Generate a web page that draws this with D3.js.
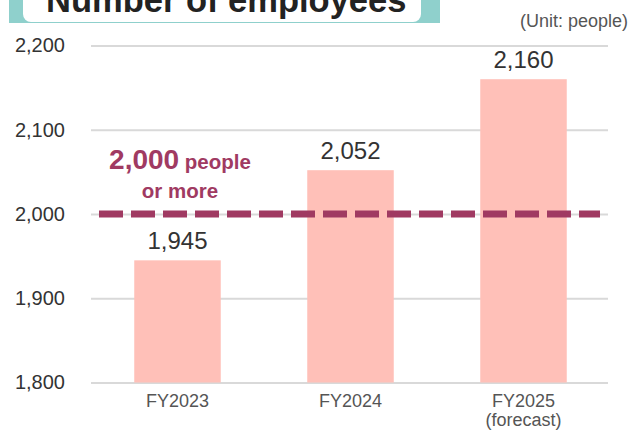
<!DOCTYPE html>
<html>
<head>
<meta charset="utf-8">
<script src="https://cdn.jsdelivr.net/npm/d3@7"></script>
<style>
  body { margin: 0; background: #fff; }
  svg { display: block; font-family: "Liberation Sans", Arial, sans-serif; }
</style>
</head>
<body>
<svg width="631" height="432"></svg>
<script>
// data
const categories = ["FY2023", "FY2024", "FY2025"];
const subLabels = ["", "", "(forecast)"];
const employees = [1945, 2052, 2160];
const yTicks = [1800, 1900, 2000, 2100, 2200];
const targetValue = 2000;

const svg = d3.select("svg");

// title block with teal brackets (top is cut off like the original)
svg.append("rect")
  .attr("x", 9).attr("y", -10)
  .attr("width", 431).attr("height", 33)
  .attr("fill", "#8fd0cc");
svg.append("rect")
  .attr("x", 23).attr("y", -20)
  .attr("width", 398).attr("height", 42)
  .attr("rx", 8)
  .attr("fill", "#fff");
svg.append("text")
  .attr("x", 46).attr("y", 12)
  .attr("font-size", 34.5)
  .attr("font-weight", "bold")
  .attr("fill", "#222")
  .text("Number of employees");

svg.append("text")
  .attr("x", 628).attr("y", 27)
  .attr("text-anchor", "end")
  .attr("font-size", 18)
  .attr("fill", "#555")
  .text("(Unit: people)");

// scales
const x = d3.scaleBand()
  .domain(categories)
  .range([91, 610])
  .paddingInner(0.5)
  .paddingOuter(0.25);

const y = d3.scaleLinear()
  .domain([1800, 2200])
  .range([382.5, 45.5]);

// grid lines + y labels
const yAxis = svg.append("g")
  .attr("transform", "translate(91,0)")
  .call(d3.axisLeft(y).tickValues(yTicks).tickSize(-517).tickFormat(d3.format(",")).tickPadding(26));
yAxis.attr("font-family", null);
yAxis.select(".domain").remove();
yAxis.selectAll(".tick line").attr("stroke", "#d9d9d9").attr("stroke-width", 2);
yAxis.selectAll(".tick text")
  .attr("font-size", 20)
  .attr("fill", "#333");

// bars
svg.selectAll(".bar")
  .data(employees)
  .enter().append("rect")
  .attr("class", "bar")
  .attr("x", (d, i) => x(categories[i]))
  .attr("y", d => y(d))
  .attr("width", x.bandwidth())
  .attr("height", d => y(1800) - y(d))
  .attr("fill", "#ffc0b8");

// value labels
svg.selectAll(".val")
  .data(employees)
  .enter().append("text")
  .attr("class", "val")
  .attr("x", (d, i) => x(categories[i]) + x.bandwidth() / 2)
  .attr("y", d => y(d) - 11)
  .attr("text-anchor", "middle")
  .attr("font-size", 24)
  .attr("fill", "#333")
  .text(d => d3.format(",")(d));

// target dashed line
svg.append("line")
  .attr("x1", 99).attr("x2", 600)
  .attr("y1", y(targetValue)).attr("y2", y(targetValue))
  .attr("stroke", "#a03a62")
  .attr("stroke-width", 7)
  .attr("stroke-dasharray", "24 8");

const note = svg.append("text")
  .attr("x", 180).attr("y", 169)
  .attr("text-anchor", "middle")
  .attr("font-weight", "bold")
  .attr("fill", "#a03a62");
note.append("tspan").attr("font-size", 28).text(d3.format(",")(targetValue));
note.append("tspan").attr("font-size", 20.5).text(" people");
svg.append("text")
  .attr("x", 180).attr("y", 198)
  .attr("text-anchor", "middle")
  .attr("font-weight", "bold")
  .attr("font-size", 20.5)
  .attr("fill", "#a03a62")
  .text("or more");

// category labels
const cat = svg.selectAll(".cat")
  .data(categories)
  .enter().append("text")
  .attr("class", "cat")
  .attr("x", d => x(d) + x.bandwidth() / 2)
  .attr("y", 407)
  .attr("text-anchor", "middle")
  .attr("font-size", 18)
  .attr("fill", "#555");
cat.append("tspan").text(d => d);
cat.append("tspan")
  .attr("x", d => x(d) + x.bandwidth() / 2)
  .attr("dy", 19)
  .text((d, i) => subLabels[i]);
</script>
</body>
</html>
